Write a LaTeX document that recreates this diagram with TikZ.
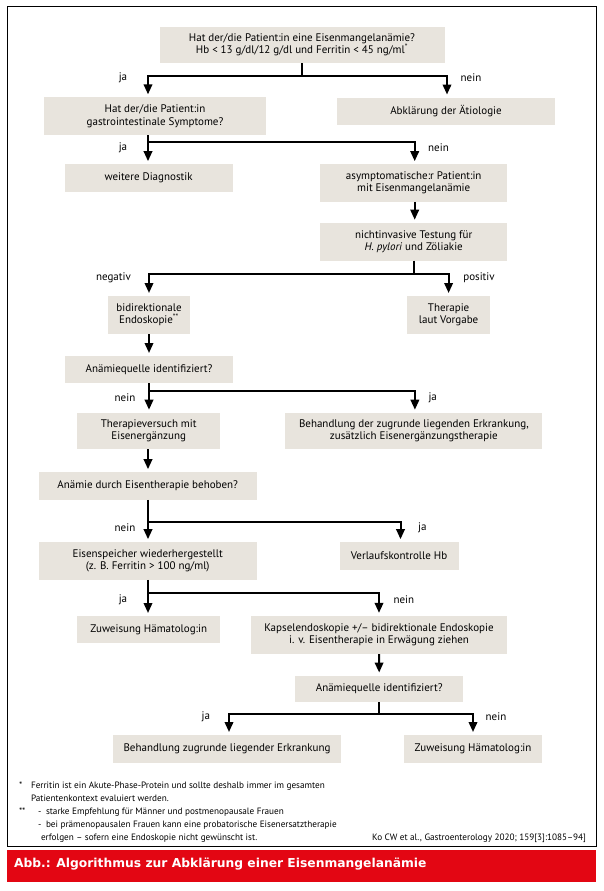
\documentclass[tikz,border=0pt]{standalone}
\usepackage{fontspec}
\setmainfont{PT Sans}
\newfontfamily\capfont{DejaVu Sans}
\usetikzlibrary{arrows.meta}
\definecolor{boxfill}{HTML}{E8E4DD}
\definecolor{capred}{HTML}{E30613}
\begin{document}
\begin{tikzpicture}[x=1pt,y=-1pt,
  every node/.style={inner sep=0pt, outer sep=0pt},
  box/.style={fill=boxfill, align=center, font=\fontsize{11}{12.2}\selectfont},
  lbl/.style={font=\fontsize{11}{12}\selectfont},
  conn/.style={line width=2pt},
  arr/.style={line width=2pt, -{Triangle[width=8.5pt,length=10pt]}, shorten >=3pt},
  fn/.style={font=\fontsize{9.2}{11}\selectfont, anchor=base west}]
\useasboundingbox (0,0) rectangle (604,891);
% frame
\draw[line width=1pt] (7.5,7) rectangle (596,846);
% boxes
\node[box, minimum width=285pt, minimum height=36.6pt] (T) at (302,45) {Hat der/die Patient:in eine Eisenmangelanämie?\\Hb < 13 g/dl/12 g/dl und Ferritin < 45 ng/ml\textsuperscript{*}};
\node[box, minimum width=222pt, minimum height=37.7pt] (A) at (155,116.2) {Hat der/die Patient:in\\gastrointestinale Symptome?};
\node[box, minimum width=218pt, minimum height=27pt] (B) at (446,111) {Abklärung der Ätiologie};
\node[box, minimum width=168pt, minimum height=27.7pt] (C) at (148.6,178) {weitere Diagnostik};
\node[box, minimum width=186.5pt, minimum height=37.7pt] (D) at (413.7,183) {asymptomatische:r Patient:in\\mit Eisenmangelanämie};
\node[box, minimum width=186.5pt, minimum height=38pt] (E) at (413.7,241.7) {nichtinvasive Testung für\\\textit{H. pylori} und Zöliakie};
\node[box, minimum width=82.7pt, minimum height=38pt] (F) at (149,315) {bidirektionale\\Endoskopie\textsuperscript{**}};
\node[box, minimum width=83.5pt, minimum height=38pt] (G) at (448.6,315) {Therapie\\laut Vorgabe};
\node[box, minimum width=168pt, minimum height=27pt] (H) at (149,369.5) {Anämiequelle identifiziert?};
\node[box, minimum width=143.5pt, minimum height=36.6pt] (I) at (148.7,431) {Therapieversuch mit\\Eisenergänzung};
\node[box, minimum width=257pt, minimum height=36.6pt] (J) at (413.9,431) {Behandlung der zugrunde liegenden Erkrankung,\\zusätzlich Eisenergänzungstherapie};
\node[box, minimum width=218.4pt, minimum height=27.7pt] (K) at (147.7,486) {Anämie durch Eisentherapie behoben?};
\node[box, minimum width=218.4pt, minimum height=37.7pt] (L) at (147.7,561) {Eisenspeicher wiederhergestellt\\(z. B. Ferritin > 100 ng/ml)};
\node[box, minimum width=119pt, minimum height=27.7pt] (M) at (399,556) {Verlaufskontrolle Hb};
\node[box, minimum width=143.5pt, minimum height=27pt] (N) at (148.7,629.5) {Zuweisung Hämatolog:in};
\node[box, minimum width=256.7pt, minimum height=38.3pt] (O) at (379,635) {Kapselendoskopie +/– bidirektionale Endoskopie\\i. v. Eisentherapie in Erwägung ziehen};
\node[box, minimum width=167.6pt, minimum height=26.5pt] (P) at (379.2,688.8) {Anämiequelle identifiziert?};
\node[box, minimum width=227.4pt, minimum height=28pt] (Q) at (227,749) {Behandlung zugrunde liegender Erkrankung};
\node[box, minimum width=138.5pt, minimum height=28pt] (R) at (473,749) {Zuweisung Hämatolog:in};
% junctions
\coordinate (j1) at (302,76);
\coordinate (j2) at (148,141.7);
\coordinate (j3) at (413.7,274);
\coordinate (j4) at (149,390.7);
\coordinate (j5) at (148,521.5);
\coordinate (j6) at (148,593.3);
\coordinate (j7) at (379.2,714);
% connectors
\draw[conn] (T.south) -- (j1);
\draw[arr] (j1) -| ([xshift=-7pt]A.north);
\draw[arr] (j1) -| ([xshift=1pt]B.north);
\draw[arr] ([xshift=-7pt]A.south) -- (C.north -| j2);
\draw[arr] (j2) -| ([xshift=1pt]D.north);
\draw[arr] ([xshift=1pt]D.south) -- ([xshift=1pt]E.north);
\draw[conn] (E.south) -- (j3);
\draw[arr] (j3) -| (F.north);
\draw[arr] (j3) -| (G.north);
\draw[arr] (F.south) -- (H.north);
\draw[arr] (H.south) -- (I.north -| j4);
\draw[arr] (j4) -| ([xshift=1pt]J.north);
\draw[arr] (I.south -| j5) -- (K.north -| j5);
\draw[arr] (K.south -| j5) -- (L.north -| j5);
\draw[arr] (j5) -| ([xshift=1.5pt]M.north);
\draw[arr] (L.south -| j6) -- (N.north -| j6);
\draw[arr] (j6) -| (O.north);
\draw[arr] (O.south) -- (P.north);
\draw[conn] (P.south) -- (j7);
\draw[arr] (j7) -| ([xshift=2pt]Q.north);
\draw[arr] (j7) -| (R.north);
% labels
\node[lbl] (l1) at (123,78) {ja};
\node[lbl] (l2) at (471,78) {nein};
\node[lbl] (l3) at (123,148) {ja};
\node[lbl] (l4) at (438.5,148) {nein};
\node[lbl] (l5) at (113.5,278) {negativ};
\node[lbl] (l6) at (479,278) {positiv};
\node[lbl] (l7) at (125,398) {nein};
\node[lbl] (l8) at (432.7,398) {ja};
\node[lbl] (l9) at (125,528) {nein};
\node[lbl] (l10) at (422.3,528) {ja};
\node[lbl] (l11) at (123,600) {ja};
\node[lbl] (l12) at (403.8,600) {nein};
\node[lbl] (l13) at (205.8,717) {ja};
\node[lbl] (l14) at (496,717) {nein};
% footnotes
\node[fn] (f1) at (19,788) {*};
\node[fn] (f2) at (31,788) {Ferritin ist ein Akute-Phase-Protein und sollte deshalb immer im gesamten};
\node[fn] (f3) at (31,801) {Patientenkontext evaluiert werden.};
\node[fn] (f4) at (19,814) {**};
\node[fn] (f5) at (38,814) {-};
\node[fn] (f6) at (46,814) {starke Empfehlung für Männer und postmenopausale Frauen};
\node[fn] (f7) at (38,827) {-};
\node[fn] (f8) at (46,827) {bei prämenopausalen Frauen kann eine probatorische Eisenersatztherapie};
\node[fn] (f9) at (41,840) {erfolgen – sofern eine Endoskopie nicht gewünscht ist.};
\node[fn, anchor=base east] (ref) at (586,840) {Ko CW et al., Gastroenterology 2020; 159[3]:1085–94]};
% caption
\fill[capred] (7,850) rectangle (596,882);
\node[anchor=base west, text=white, font=\capfont\fontsize{12.3}{15}\bfseries] (cap) at (14,867.7) {Abb.: Algorithmus zur Abklärung einer Eisenmangelanämie};
\end{tikzpicture}
\end{document}
